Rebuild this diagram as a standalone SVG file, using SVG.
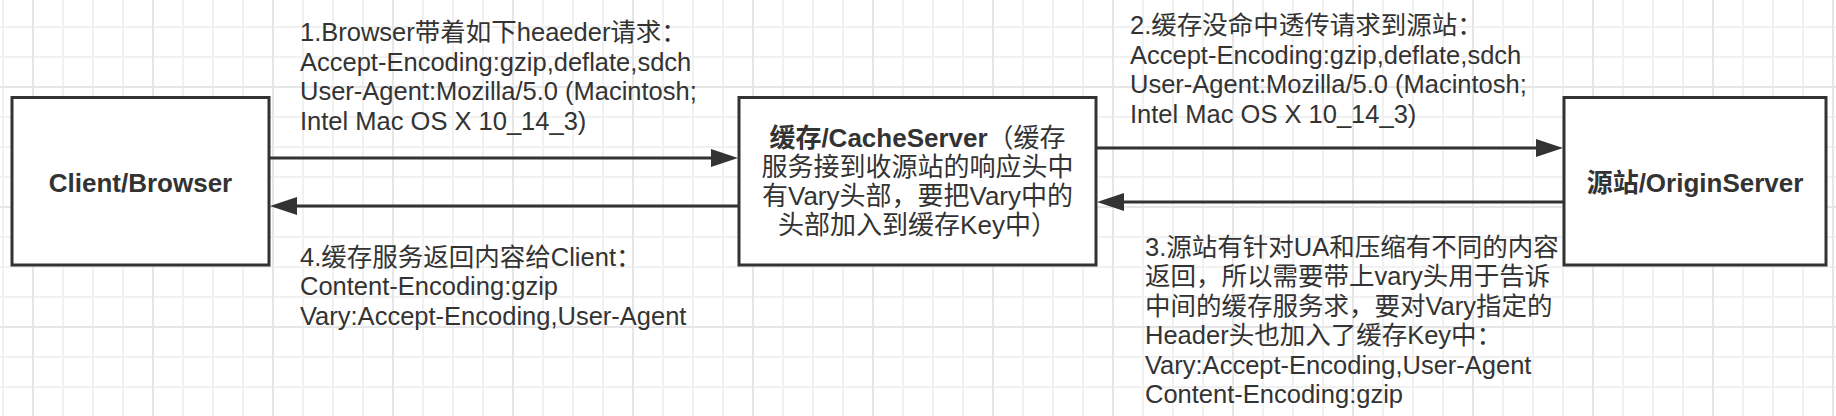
<svg xmlns="http://www.w3.org/2000/svg" width="1836" height="416" viewBox="0 0 1836 416">
  <defs>
    <pattern id="grid" x="33" y="87" width="120" height="120" patternUnits="userSpaceOnUse">
      <rect x="0" y="0" width="120" height="120" fill="#ffffff"/>
      <g fill="#f1f1f1">
        <rect x="29" y="0" width="2" height="120"/>
        <rect x="59" y="0" width="2" height="120"/>
        <rect x="89" y="0" width="2" height="120"/>
        <rect x="0" y="29" width="120" height="2"/>
        <rect x="0" y="59" width="120" height="2"/>
        <rect x="0" y="89" width="120" height="2"/>
      </g>
      <g fill="#e6e6e6">
        <rect x="-1" y="0" width="2" height="120"/>
        <rect x="119" y="0" width="2" height="120"/>
        <rect x="0" y="-1" width="120" height="2"/>
        <rect x="0" y="119" width="120" height="2"/>
      </g>
    </pattern>
    <marker id="arrow" markerUnits="userSpaceOnUse" markerWidth="28" markerHeight="18" refX="0" refY="9" orient="auto" viewBox="0 0 28 18">
      <path d="M0,0 L27,9 L0,18 Z" fill="#333333"/>
    </marker>
    <style>
      .box { fill: #ffffff; stroke: #333333; stroke-width: 3; }
      .edge { fill: none; stroke: #333333; stroke-width: 3; marker-end: url(#arrow); }
      .label { font-family: "Liberation Sans", "Noto Sans CJK SC", sans-serif; font-size: 26px; fill: #333333; text-anchor: middle; }
      .b { font-weight: bold; }
      .note { font-family: "Liberation Sans", "Noto Sans CJK SC", sans-serif; font-size: 25.5px; fill: #333333; }
    </style>
  </defs>

  <rect x="0" y="0" width="1836" height="416" fill="url(#grid)"/>

  <g id="connectors">
    <line class="edge" x1="269" y1="158" x2="711" y2="158"/>
    <line class="edge" x1="739" y1="206" x2="297" y2="206"/>
    <line class="edge" x1="1096" y1="148" x2="1536" y2="148"/>
    <line class="edge" x1="1564" y1="202" x2="1124" y2="202"/>
  </g>

  <g id="node-client">
    <rect class="box" x="12" y="97.5" width="257" height="167.5"/>
    <text class="label b" x="140.5" y="192">Client/Browser</text>
  </g>

  <g id="node-cache">
    <rect class="box" x="739" y="97.5" width="357" height="167.5"/>
    <text class="label" x="917.5" y="147"><tspan class="b">缓存/CacheServer</tspan>（缓存</text>
    <text class="label" x="917.5" y="176">服务接到收源站的响应头中</text>
    <text class="label" x="917.5" y="205">有Vary头部，要把Vary中的</text>
    <text class="label" x="917.5" y="234">头部加入到缓存Key中）</text>
  </g>

  <g id="node-origin">
    <rect class="box" x="1564" y="97.5" width="262" height="167.5"/>
    <text class="label b" x="1695" y="192">源站/OriginServer</text>
  </g>

  <g id="note-1">
    <text class="note" x="300" y="41">1.Browser带着如下heaeder请求：</text>
    <text class="note" x="300" y="70.5">Accept-Encoding:gzip,deflate,sdch</text>
    <text class="note" x="300" y="100">User-Agent:Mozilla/5.0 (Macintosh;</text>
    <text class="note" x="300" y="129.5">Intel Mac OS X 10_14_3)</text>
  </g>

  <g id="note-2">
    <text class="note" x="1130" y="34">2.缓存没命中透传请求到源站：</text>
    <text class="note" x="1130" y="63.5">Accept-Encoding:gzip,deflate,sdch</text>
    <text class="note" x="1130" y="93">User-Agent:Mozilla/5.0 (Macintosh;</text>
    <text class="note" x="1130" y="122.5">Intel Mac OS X 10_14_3)</text>
  </g>

  <g id="note-3">
    <text class="note" x="1145" y="255.5">3.源站有针对UA和压缩有不同的内容</text>
    <text class="note" x="1145" y="285">返回，所以需要带上vary头用于告诉</text>
    <text class="note" x="1145" y="314.5">中间的缓存服务求，要对Vary指定的</text>
    <text class="note" x="1145" y="344">Header头也加入了缓存Key中：</text>
    <text class="note" x="1145" y="373.5">Vary:Accept-Encoding,User-Agent</text>
    <text class="note" x="1145" y="403">Content-Encoding:gzip</text>
  </g>

  <g id="note-4">
    <text class="note" x="300" y="265.5">4.缓存服务返回内容给Client：</text>
    <text class="note" x="300" y="295">Content-Encoding:gzip</text>
    <text class="note" x="300" y="324.5">Vary:Accept-Encoding,User-Agent</text>
  </g>
</svg>
